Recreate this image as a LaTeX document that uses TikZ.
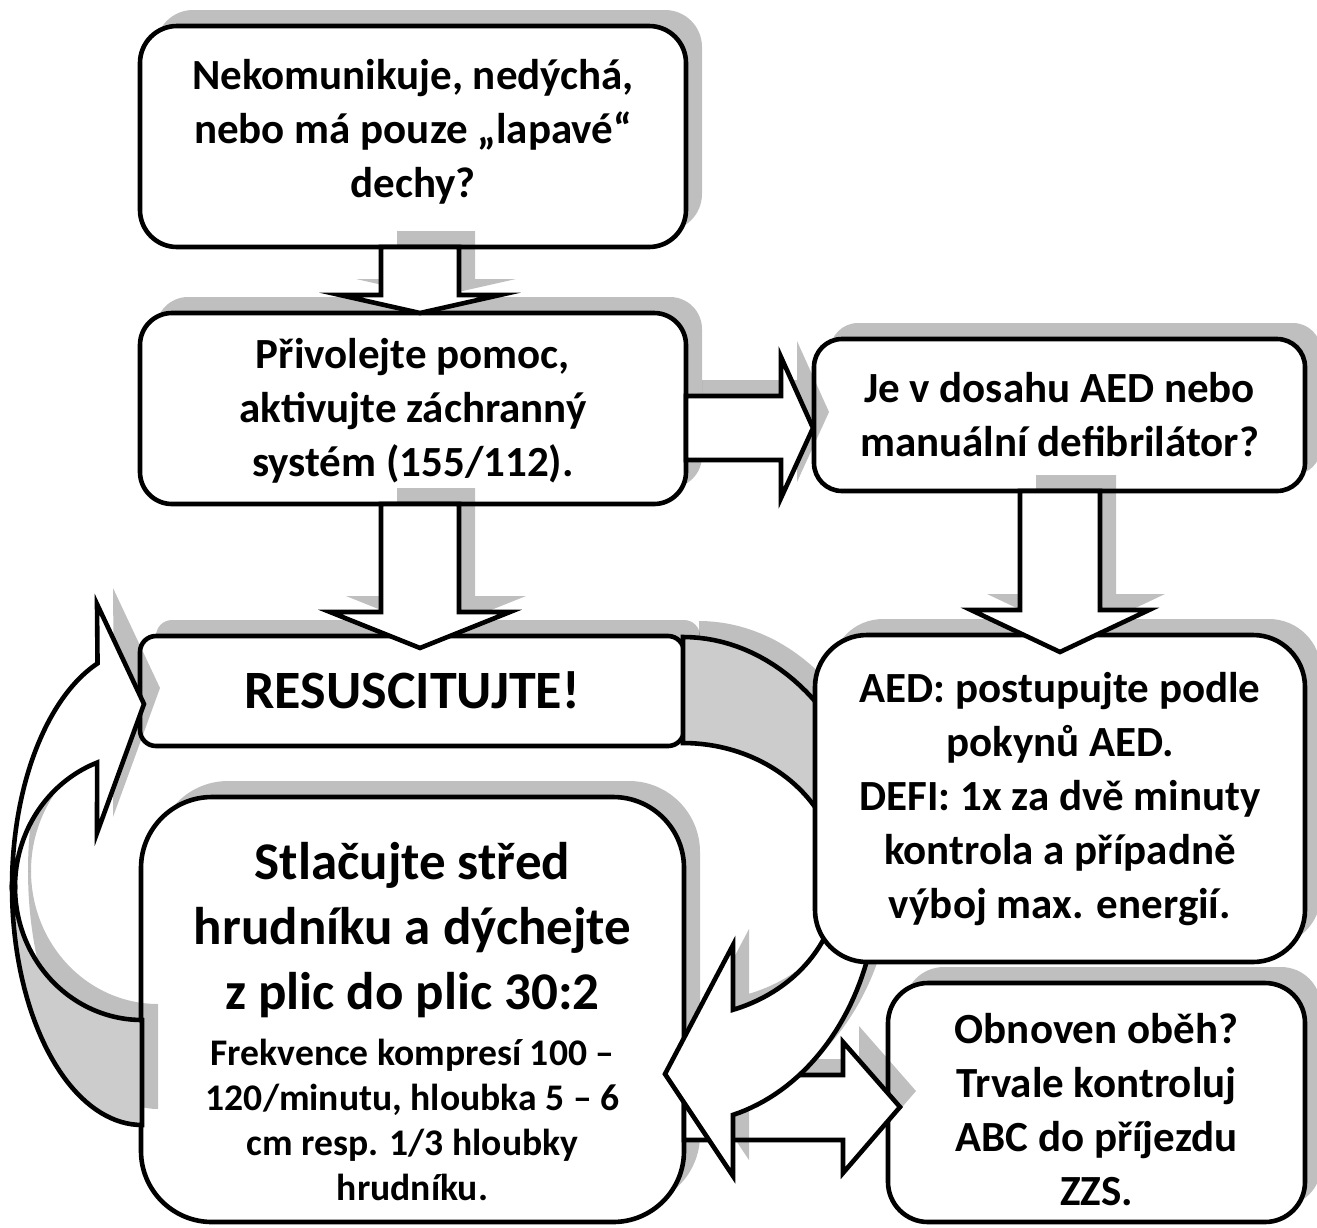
\documentclass[tikz,border=0pt]{standalone}
\usepackage{fontspec}
\setmainfont{Carlito}
\usetikzlibrary{shadows}
\begin{document}
\begin{tikzpicture}[x=0.5pt,y=-0.5pt,
  every node/.style={inner sep=0pt,outer sep=0pt},
  sh/.style={drop shadow={shadow xshift=8pt,shadow yshift=8pt,fill=black,opacity=0.25}},
  box/.style={draw=black,line width=2.3pt,fill=white,rounded corners=#1,sh},
  arr/.style={draw=black,line width=2.3pt,fill=white,line join=miter,sh},
  back/.style={draw=black,line width=2.3pt,fill=black!20,line join=miter,sh},
  txt/.style={font=\bfseries\fontsize{21.5pt}{27pt}\selectfont,align=center},
  big/.style={font=\bfseries\fontsize{26.5pt}{32.5pt}\selectfont,align=center},
  small/.style={font=\bfseries\fontsize{18.8pt}{22.5pt}\selectfont,align=center},
  res/.style={font=\bfseries\fontsize{27pt}{32pt}\selectfont,align=center}]
\useasboundingbox (0,0) rectangle (1317,1227);

% boxes
\node[box=18.5pt,minimum width=273pt,minimum height=110.5pt] (b1) at (413,136.5) {};
\node[txt] (t1) at (413,132) {Nekomunikuje, nedýchá,\\nebo má pouze „lapavé“\\dechy?};
\node[box=16pt,minimum width=273pt,minimum height=95.5pt] (b2) at (413,408.5) {};
\node[txt] (t2) at (413,411) {Přivolejte pomoc,\\aktivujte záchranný\\systém (155/112).};
\node[box=14pt,minimum width=245.5pt,minimum height=76pt] (b3) at (1059.5,415) {};
\node[txt] (t3) at (1059.5,415) {Je v dosahu AED nebo\\manuální defibrilátor?};
\node[box=8pt,minimum width=272pt,minimum height=55pt] (b4) at (412,691) {};
\node[res] (t4) at (412,690) {RESUSCITUJTE!};
\node[box=35.5pt,minimum width=271.5pt,minimum height=212.5pt] (b6) at (412.5,1009.5) {};
\node[big] (t6a) at (412.5,930) {Stlačujte střed\\hrudníku a dýchejte\\z plic do plic 30:2};
\node[small] (t6b) at (412.5,1120) {Frekvence kompresí 100 –\\120/minutu, hloubka 5 – 6\\cm resp. 1/3 hloubky\\hrudníku.};
\node[box=20pt,minimum width=208.5pt,minimum height=119.5pt] (b7) at (1096.5,1102.5) {};
\node[txt] (t7) at (1096.5,1110) {Obnoven oběh?\\Trvale kontroluj\\ABC do příjezdu\\ZZS.};

% straight block arrows
\filldraw[arr] (381,247) -- (381,295) -- (340,295) -- (420,313) -- (500,295) -- (459,295) -- (459,247) -- cycle;
\filldraw[arr] (381,504) -- (381,612) -- (330,612) -- (420,648) -- (510,612) -- (459,612) -- (459,504) -- cycle;
\filldraw[arr] (686,396) -- (781,396) -- (781,357) -- (813,428) -- (781,498) -- (781,460) -- (686,460) -- cycle;
\filldraw[arr] (684,1075) -- (843,1075) -- (843,1042) -- (900,1107) -- (843,1173) -- (843,1140) -- (684,1140) -- cycle;

% right curved arrow (back part behind the AED box, front part with head)
\filldraw[back] (683,637)
  -- plot[domain=-90:0,samples=40,variable=\t] ({683+195*cos(\t)},{880+243*sin(\t)})
  -- plot[domain=0:-90,samples=40,variable=\t] ({683+156*cos(\t)},{880+137*sin(\t)})
  -- cycle;
\filldraw[arr] (878,880)
  -- plot[domain=0:75.14,samples=40,variable=\t] ({683+195*cos(\t)},{880+243*sin(\t)})
  -- (733,1176) -- (665,1074) -- (733,945)
  -- plot[domain=71.3:0,samples=40,variable=\t] ({683+156*cos(\t)},{880+137*sin(\t)})
  -- cycle;

% AED box
\node[box=26pt,minimum width=245pt,minimum height=163.5pt] (b5) at (1060,798.5) {};
\node[txt] (t5) at (1060,799) {AED: postupujte podle\\pokynů AED.\\DEFI: 1x za dvě minuty\\kontrola a případně\\výboj max. energií.};
\filldraw[arr] (1020,491) -- (1020,610) -- (971,610) -- (1060,652) -- (1149,610) -- (1100,610) -- (1100,491) -- cycle;

% left curved arrow
\filldraw[back] (12,887)
  -- plot[domain=180:90,samples=40,variable=\t] ({142+130*cos(\t)},{887+238*sin(\t)})
  -- plot[domain=90:180,samples=40,variable=\t] ({142+127*cos(\t)},{887+133*sin(\t)})
  -- cycle;
\filldraw[arr] (12,887)
  -- plot[domain=180:250,samples=40,variable=\t] ({142+130*cos(\t)},{887+238*sin(\t)})
  -- (97,604) -- (144,704) -- (97,833)
  -- plot[domain=249.3:180,samples=40,variable=\t] ({142+127*cos(\t)},{887+133*sin(\t)})
  -- cycle;
\end{tikzpicture}
\end{document}
